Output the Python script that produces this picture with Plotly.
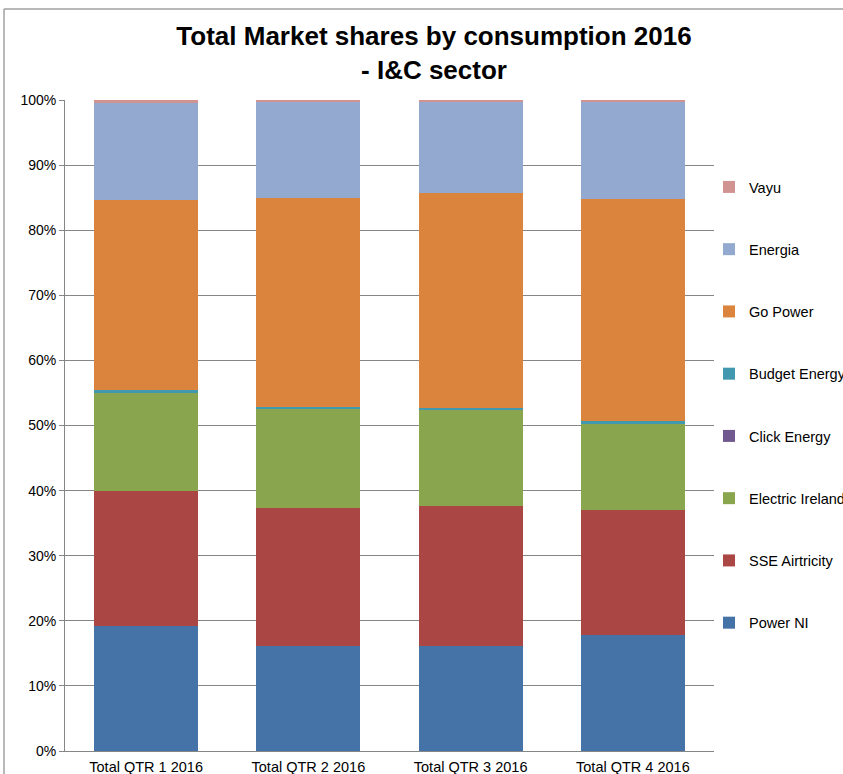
import plotly.graph_objects as go

categories = ["Total QTR 1 2016", "Total QTR 2 2016", "Total QTR 3 2016", "Total QTR 4 2016"]

power_ni = [19.2, 16.1, 16.1, 17.8]
sse_airtricity = [20.7, 21.2, 21.5, 19.2]
electric_ireland = [15.2, 15.35, 14.8, 13.3]
click_energy = [0.03, 0.03, 0.03, 0.03]
budget_energy = [0.25, 0.15, 0.2, 0.3]
go_power = [29.2, 32.1, 33.1, 34.2]
energia = [15.1, 14.8, 13.9, 14.9]
vayu = [0.3, 0.3, 0.4, 0.3]

series = [
    ("Power NI", power_ni, "#4572A7"),
    ("SSE Airtricity", sse_airtricity, "#AA4643"),
    ("Electric Ireland", electric_ireland, "#89A54E"),
    ("Click Energy", click_energy, "#71588F"),
    ("Budget Energy", budget_energy, "#4198AF"),
    ("Go Power", go_power, "#DB843D"),
    ("Energia", energia, "#93A9CF"),
    ("Vayu", vayu, "#D19392"),
]

fig = go.Figure()
n = len(series)
for i, (name, vals, color) in enumerate(series):
    fig.add_trace(go.Bar(
        x=categories, y=vals, name=name, legendgroup=name,
        legendrank=n - i,
        marker=dict(color=color, line=dict(width=0)),
    ))

W, H = 843, 774
L, R, T, B = 65, 714, 100, 751
pw, ph = R - L, B - T

def px_x(x):
    return (x - L) / pw

def px_y(y):
    return (B - y) / ph

fig.update_layout(
    width=W, height=H,
    margin=dict(l=L, r=W - R, t=T, b=H - B, autoexpand=False),
    barmode="stack",
    bargap=0.36,
    plot_bgcolor="white",
    paper_bgcolor="white",
    font=dict(family="Liberation Sans, Arial, sans-serif", size=14, color="#000000"),
    title=dict(
        text="<b>Total Market shares by consumption 2016<br>- I&C sector</b>",
        x=px_x(434), xref="paper", xanchor="center",
        y=1 - 45 / H, yref="container", yanchor="middle",
        font=dict(size=26, color="#000000"),
    ),
    xaxis=dict(
        showgrid=False, showline=True, linecolor="#868686", linewidth=1,
        ticks="", tickfont=dict(size=14.5), ticklabelstandoff=3,
    ),
    yaxis=dict(
        range=[0, 100], dtick=10, ticksuffix="%",
        showgrid=True, gridcolor="#868686", gridwidth=1,
        showline=True, linecolor="#868686", linewidth=1,
        ticks="outside", ticklen=5, tickcolor="#868686",
        tickfont=dict(size=14), zeroline=False,
    ),
    legend=dict(
        x=px_x(709), xanchor="left",
        y=px_y(171), yanchor="top",
        traceorder="grouped",
        tracegroupgap=40.4,
        font=dict(size=14.5),
        bgcolor="rgba(0,0,0,0)",
        itemwidth=30,
    ),
    showlegend=True,
)

# outer chart border (top and left visible)
fig.add_shape(type="line", xref="paper", yref="paper",
              x0=px_x(4), x1=px_x(900), y0=px_y(9), y1=px_y(9),
              line=dict(color="#A0A0A0", width=1.5))
fig.add_shape(type="line", xref="paper", yref="paper",
              x0=px_x(4), x1=px_x(4), y0=px_y(9), y1=px_y(900),
              line=dict(color="#A0A0A0", width=1.5))

fig.write_html(
    "out.html",
    config={"displayModeBar": False},
    post_script="document.body.style.margin='0';document.body.style.overflow='hidden';",
)
